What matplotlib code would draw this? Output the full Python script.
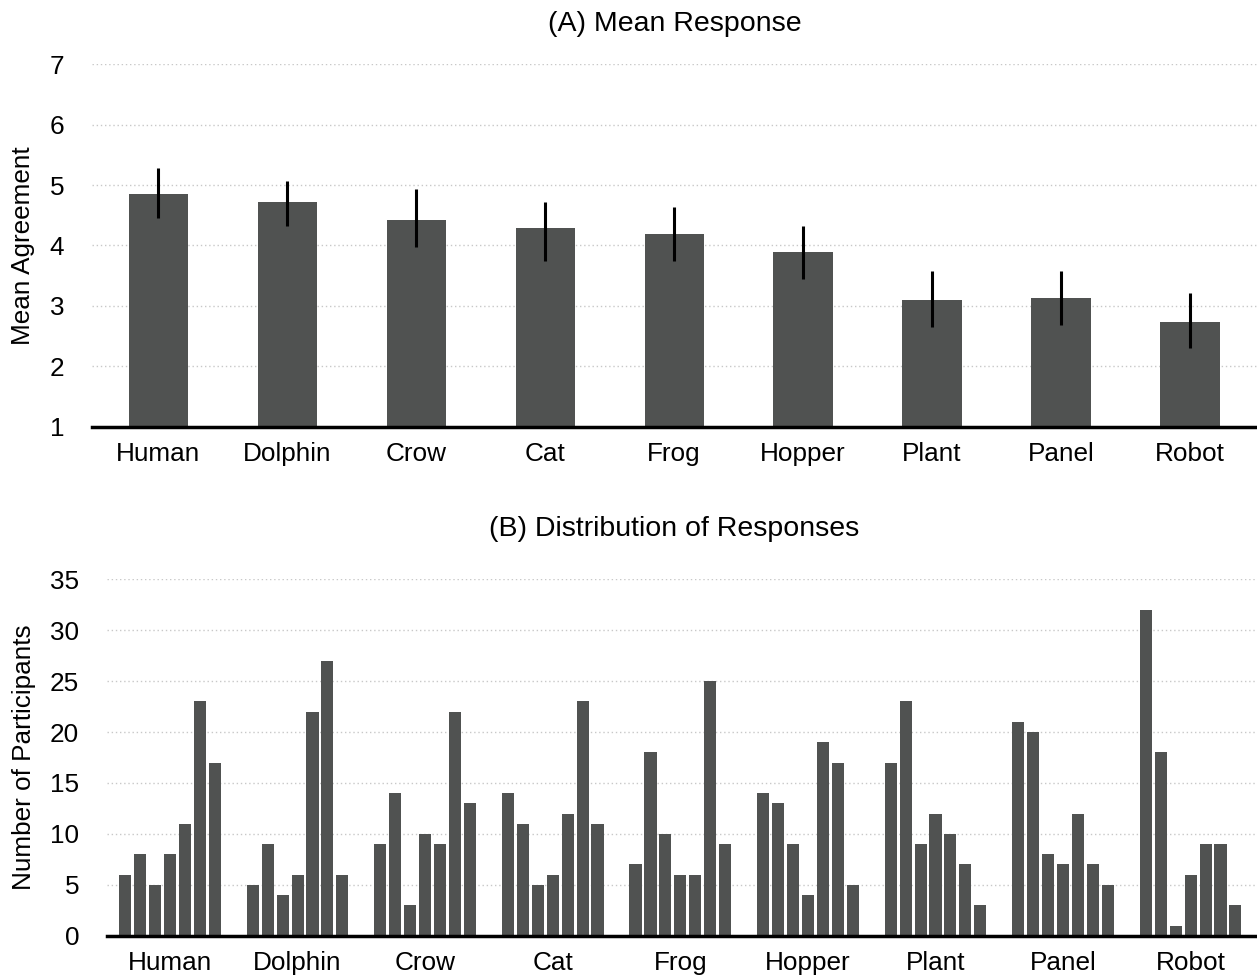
import matplotlib
matplotlib.use('Agg')
import matplotlib.pyplot as plt
import numpy as np

plt.rcParams['font.family'] = ['Liberation Sans', 'DejaVu Sans']

# категории
categories = ['Human', 'Dolphin', 'Crow', 'Cat', 'Frog', 'Hopper', 'Plant', 'Panel', 'Robot']

# (A) средние значения и границы ошибок
mean_agreement = [4.86, 4.72, 4.42, 4.29, 4.19, 3.89, 3.10, 3.13, 2.73]
err_low = [4.46, 4.33, 3.97, 3.75, 3.75, 3.44, 2.65, 2.69, 2.31]
err_high = [5.29, 5.07, 4.94, 4.72, 4.63, 4.32, 3.58, 3.58, 3.22]

# (B) число участников по ответам 1..7
responses = {
    'Human':   [6, 8, 5, 8, 11, 23, 17],
    'Dolphin': [5, 9, 4, 6, 22, 27, 6],
    'Crow':    [9, 14, 3, 10, 9, 22, 13],
    'Cat':     [14, 11, 5, 6, 12, 23, 11],
    'Frog':    [7, 18, 10, 6, 6, 25, 9],
    'Hopper':  [14, 13, 9, 4, 19, 17, 5],
    'Plant':   [17, 23, 9, 12, 10, 7, 3],
    'Panel':   [21, 20, 8, 7, 12, 7, 5],
    'Robot':   [32, 18, 1, 6, 9, 9, 3],
}

bar_color = '#505251'
fs = 18.8


def style_axes(ax, label_x):
    for s in ['left', 'right', 'top']:
        ax.spines[s].set_visible(False)
    ax.spines['bottom'].set_linewidth(2.5)
    ax.spines['bottom'].set_color('black')
    ax.tick_params(axis='both', length=0, labelsize=fs)
    ax.tick_params(axis='y', pad=20)
    ax.tick_params(axis='x', pad=11)
    ax.yaxis.grid(True, linestyle=(0, (1, 2)), color='#c8c8c8', linewidth=1)
    ax.set_axisbelow(True)
    ax.yaxis.set_label_coords(label_x, 0.5)


fig = plt.figure(figsize=(12.57, 9.8), dpi=100)

# Панель A
ax1 = fig.add_axes([0.0732, 0.5646, 0.9268, 0.3698])
x = np.arange(len(categories))
mean_arr = np.array(mean_agreement)
yerr = [mean_arr - np.array(err_low), np.array(err_high) - mean_arr]
ax1.bar(x, mean_arr - 1, bottom=1, width=0.46, color=bar_color, zorder=2)
ax1.errorbar(x, mean_arr, yerr=yerr, fmt='none', ecolor='black', elinewidth=2.2, capsize=0, zorder=3)
ax1.set_xlim(-0.515, 8.52)
ax1.set_ylim(1, 7)
ax1.set_yticks(range(1, 8))
ax1.set_xticks(x)
ax1.set_xticklabels(categories)
ax1.set_ylabel('Mean Agreement', fontsize=fs)
ax1.set_title('(A) Mean Response', fontsize=20.5, pad=24)
style_axes(ax1, -0.049)

# Панель B
ax2 = fig.add_axes([0.0851, 0.0452, 0.9149, 0.3637])
pitch = 0.117
bw = 0.095
for i, cat in enumerate(categories):
    vals = responses[cat]
    offs = (np.arange(len(vals)) - 3) * pitch
    ax2.bar(i + offs, vals, width=bw, color=bar_color, zorder=2)
ax2.set_xlim(-0.494, 8.52)
ax2.set_ylim(0, 35)
ax2.set_yticks(range(0, 36, 5))
ax2.set_xticks(x)
ax2.set_xticklabels(categories)
ax2.set_ylabel('Number of Participants', fontsize=fs)
ax2.set_title('(B) Distribution of Responses', fontsize=20.5, pad=31)
style_axes(ax2, -0.062)
# заголовок B центрирован по всей ширине, как в A
ax2.title.set_position((0.5 - 0.0119 / 2 / 0.9149, 1.0))

fig.savefig('out.png', dpi=100)
